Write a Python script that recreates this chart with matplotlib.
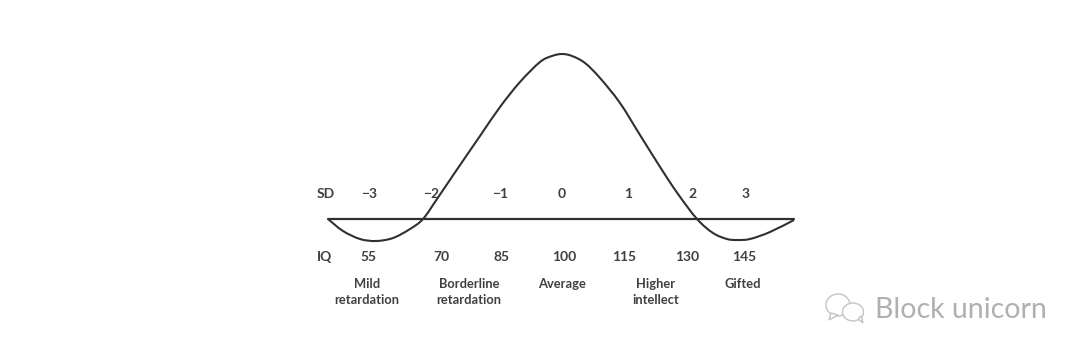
import matplotlib
matplotlib.use('Agg')
import matplotlib.pyplot as plt
from matplotlib.patches import Ellipse, Polygon, PathPatch
from matplotlib.path import Path

plt.rcParams['font.family'] = ['Lato', 'DejaVu Sans']

# values, in image pixels
curve_x = [328, 343, 360, 376, 393, 410, 423, 437, 458, 480, 500, 520, 540, 552, 562,
           572, 585, 600, 620, 640, 662, 678, 697, 713, 727, 737, 750, 770, 794]
curve_y = [219, 231, 239, 241, 238, 229, 219, 199, 168, 136, 107, 82, 62, 56, 54,
           56, 63, 78, 103, 135, 170, 194, 219, 233, 239, 240, 239, 232, 220]
base_x = [328, 794]
base_y = [219, 219]

sd_labels = ['\u22123', '\u22122', '\u22121', '0', '1', '2', '3']
sd_pos = [369, 431, 500, 562, 628, 693, 746]
iq_labels = ['55', '70', '85', '100', '115', '130', '145']
iq_pos = [368, 441, 502, 564, 624, 687, 744]
groups = ['Mild\nretardation', 'Borderline\nretardation', 'Average', 'Higher\nintellect', 'Gifted']
group_pos = [367, 469, 562, 656, 743]

dark = '#303030'
txt = '#404040'

fig = plt.figure(figsize=(10.8, 3.54), dpi=100)
ax = fig.add_axes([0, 0, 1, 1])
ax.set_xlim(0, 1080)
ax.set_ylim(354, 0)
ax.axis('off')

ax.plot(base_x, base_y, color=dark, lw=1.6, solid_capstyle='round')

# bezier through the read points so the curve is not polygonal
pts = list(zip(curve_x, curve_y))
verts = [pts[0]]
codes = [Path.MOVETO]
for i in range(len(pts) - 1):
    p0 = pts[max(i - 1, 0)]
    p1 = pts[i]
    p2 = pts[i + 1]
    p3 = pts[min(i + 2, len(pts) - 1)]
    c1 = (p1[0] + (p2[0] - p0[0]) / 6, p1[1] + (p2[1] - p0[1]) / 6)
    c2 = (p2[0] - (p3[0] - p1[0]) / 6, p2[1] - (p3[1] - p1[1]) / 6)
    verts += [c1, c2, p2]
    codes += [Path.CURVE4, Path.CURVE4, Path.CURVE4]
ax.add_patch(PathPatch(Path(verts, codes), fc='none', ec=dark, lw=1.5))

ax.text(326, 194, 'SD', ha='center', va='center', fontsize=10, fontweight='bold', color=txt)
ax.text(325, 257, 'IQ', ha='center', va='center', fontsize=10, fontweight='bold', color=txt)
for p, s in zip(sd_pos, sd_labels):
    ax.text(p, 194, s, ha='center', va='center', fontsize=10, fontweight='bold', color=txt)
for p, s in zip(iq_pos, iq_labels):
    ax.text(p, 257, s, ha='center', va='center', fontsize=10, fontweight='bold', color=txt)
for p, s in zip(group_pos, groups):
    ax.text(p, 278, s, ha='center', va='top', fontsize=9.3, fontweight='bold', color=txt,
            linespacing=1.45)

# watermark
wm = '#c4c4c4'
ax.add_patch(Ellipse((838, 305), 24, 22, fc='white', ec=wm, lw=1))
ax.add_patch(Polygon([[831, 313], [829, 320], [838, 315]], closed=True, fc='white', ec=wm, lw=1))
ax.add_patch(Ellipse((853, 312), 21, 18, fc='white', ec=wm, lw=1, zorder=3))
ax.add_patch(Polygon([[858, 319], [863, 323], [861, 316]], closed=True, fc='white', ec=wm, lw=1, zorder=3))
ax.text(875, 310, 'Block unicorn', ha='left', va='center', fontsize=20.5, color='#b0b0b0',
        fontweight='normal')

fig.savefig('out.png', dpi=100, facecolor='white')
